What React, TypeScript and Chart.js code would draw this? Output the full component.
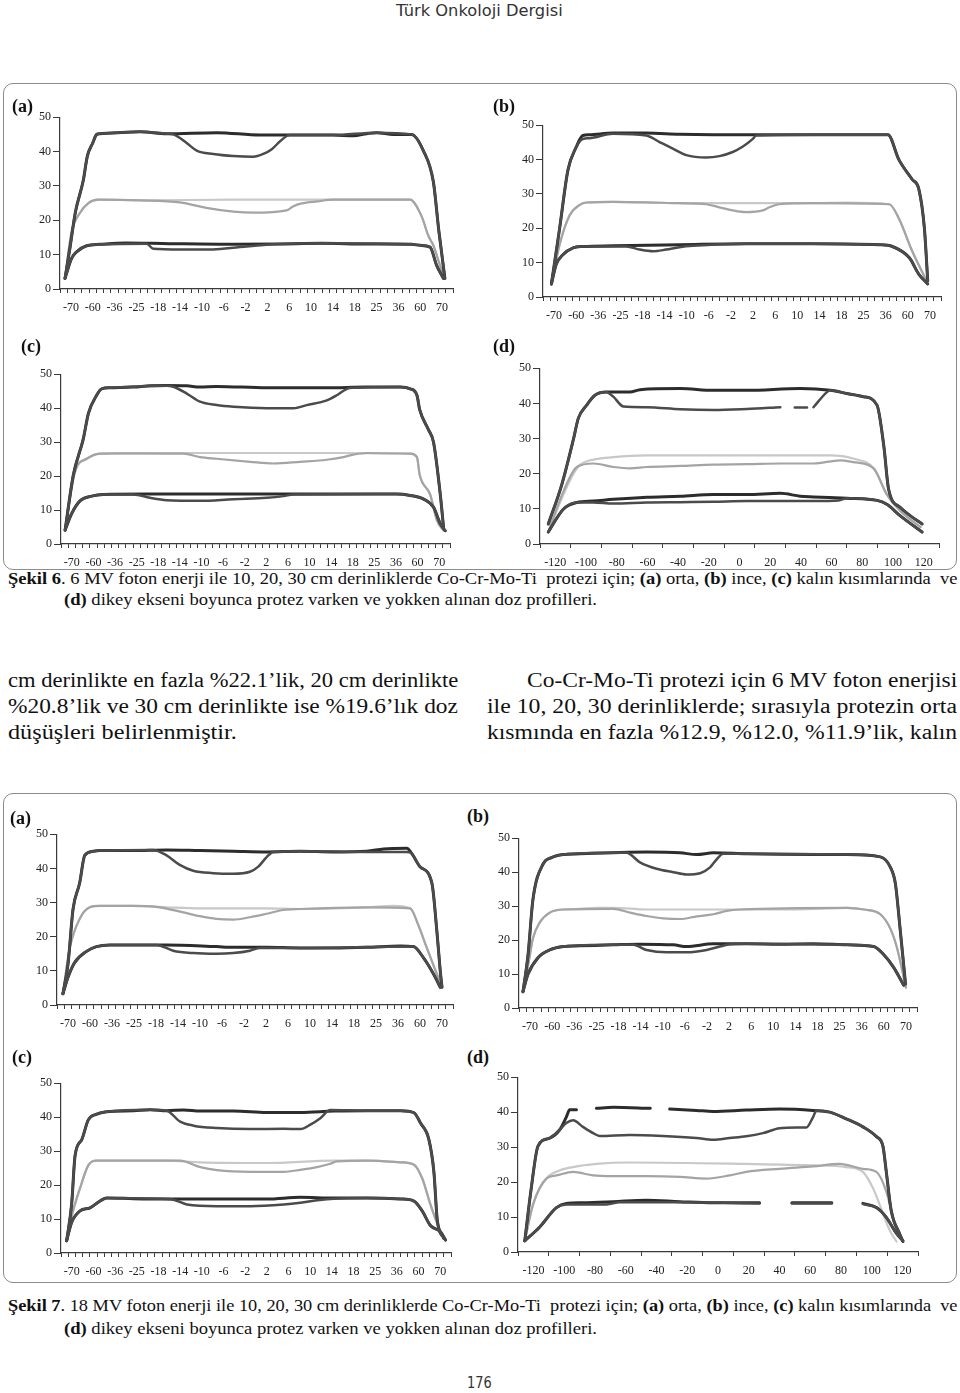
import React, { useEffect, useLayoutEffect, useRef } from 'react';
import { Chart, registerables } from 'chart.js';
Chart.register(...registerables);

type P = [number, number | null];

// ---------- tick labels ----------
const LABELS_MID = ['-70', '-60', '-36', '-25', '-18', '-14', '-10', '-6', '-2', '2', '6', '10', '14', '18', '25', '36', '60', '70'];
const LABELS_VERT = ['-120', '-100', '-80', '-60', '-40', '-20', '0', '20', '40', '60', '80', '100', '120'];
const Y_MAX = 50;
const Y_STEP = 10;

// ---------- Şekil 6 (a) orta ----------
const a6_10: P[] = [[0.23,3.1],[0.45,11.7],[0.7,22.2],[1.07,31.7],[1.25,38.6],[1.5,42.5],[1.68,45],[1.83,45.2],[3.66,45.8],[4.89,45.2],[7.18,45.5],[9.16,44.8],[11,44.8],[12.5,44.8],[13.44,44.6],[14.05,45.2],[14.5,45.5],[15.27,45],[16.1,45],[16.64,40.3],[17.1,31.2],[17.35,17],[17.63,3.1]];
const a6_10p: P[] = [[0.23,3.1],[0.45,11.7],[0.7,22.2],[1.07,31.7],[1.25,38.6],[1.5,42.5],[1.68,45],[1.83,45.2],[3.66,45.8],[4.89,45.2],[5.19,45],[5.8,42.5],[6.26,40.3],[7.02,39.3],[7.94,38.7],[8.85,38.5],[9.31,39.3],[9.7,40.7],[10.08,43],[10.4,44.6],[10.53,44.8],[12.5,44.8],[14.5,45.5],[16.1,45],[16.64,40.3],[17.1,31.2],[17.35,17],[17.63,3.1]];
const a6_20: P[] = [[0.23,3.1],[0.53,16.5],[0.92,22.2],[1.3,25],[1.76,26],[4,25.8],[8,26],[12,26],[16.03,26],[16.56,21.2],[16.87,15.5],[17.1,12.7],[17.4,7],[17.63,3.1]];
const a6_20p: P[] = [[0.23,3.1],[0.53,16.5],[0.92,22.2],[1.3,25],[1.76,26],[3.66,25.8],[5.5,25.2],[6.7,23.6],[7.94,22.5],[8.85,22.2],[10.38,22.9],[10.69,24.1],[11.07,24.9],[11.8,25.5],[12.5,26],[16.03,26],[16.56,21.2],[16.87,15.5],[17.1,12.7],[17.4,7],[17.63,3.1]];
const a6_30: P[] = [[0.23,3.1],[0.53,8.9],[0.76,10.8],[1.22,12.6],[1.83,13],[3,13.4],[5,13.2],[8,13],[10,13.1],[12,13.3],[14,13.1],[16.1,13],[16.5,12.7],[16.95,12.2],[17.25,6.9],[17.56,3.1]];
const a6_30p: P[] = [[0.23,3.1],[0.53,8.9],[0.76,10.8],[1.22,12.6],[1.83,13],[3.97,13.2],[4.27,11.7],[5.5,11.5],[7,11.5],[8.24,12.2],[9.16,12.7],[9.8,13],[12,13.3],[16.1,13],[16.5,12.7],[16.95,12.2],[17.25,6.9],[17.56,3.1]];

// ---------- Şekil 6 (b) ince ----------
const b6_10: P[] = [[0.38,3.8],[0.75,19.9],[1.13,37],[1.5,43.6],[1.8,47],[2.1,47.2],[3.16,47.7],[4.67,47.7],[6.17,47.4],[9.19,47.2],[12.2,47.2],[15.6,47.2],[16.1,39.9],[16.7,34.2],[17,31.3],[17.25,19.9],[17.4,4.7]];
const b6_10p: P[] = [[0.38,3.8],[0.75,19.9],[1.13,37],[1.5,43.6],[1.8,46],[2.1,46.2],[3.16,47.5],[4.67,47],[5.27,45.1],[5.87,43.2],[6.48,41.3],[7.38,40.6],[7.98,41],[8.58,42.2],[9.04,43.8],[9.49,46],[9.64,47],[12.2,47.2],[15.6,47.2],[16.1,39.9],[16.7,34.2],[17,31.3],[17.25,19.9],[17.4,4.7]];
const b6_20: P[] = [[0.38,3.8],[0.75,15.2],[1.2,23.7],[1.66,26.8],[1.96,27.5],[3.16,27.7],[6.17,27.3],[9.19,27.3],[12.2,27.3],[13.7,27.5],[15.66,27],[16.1,22.8],[16.7,13.3],[17.2,6.6],[17.4,3.8]];
const b6_20p: P[] = [[0.38,3.8],[0.75,15.2],[1.2,23.7],[1.66,26.8],[1.96,27.5],[3.16,27.7],[6.17,27.3],[7.38,27],[7.98,26.1],[8.58,25.2],[9.19,24.7],[9.94,25.2],[10.24,26.1],[10.69,27],[12.2,27.3],[15.66,27],[16.1,22.8],[16.7,13.3],[17.2,6.6],[17.4,3.8]];
const b6_30: P[] = [[0.38,3.8],[0.6,9.5],[0.9,12.3],[1.36,14.3],[1.8,14.7],[3.16,14.9],[6.17,15.2],[9.19,15.5],[12.2,15.5],[15.2,15.2],[15.8,14.7],[16.57,11.4],[17,6.6],[17.4,3.8]];
const b6_30p: P[] = [[0.38,3.8],[0.6,9.5],[0.9,12.3],[1.36,14.3],[1.8,14.7],[3.77,14.7],[4.37,13.8],[4.97,13.3],[5.57,13.8],[6.17,14.5],[6.78,14.9],[9.19,15.5],[12.2,15.5],[15.2,15.2],[15.8,14.7],[16.57,11.4],[17,6.6],[17.4,3.8]];

// ---------- Şekil 6 (c) kalın ----------
const c6_10: P[] = [[0.19,4.1],[0.57,20.3],[1.03,30.9],[1.27,38.5],[1.65,43.8],[1.88,45.7],[2.27,46],[3.35,46.2],[4.12,46.6],[4.89,46.7],[5.82,46.6],[6.43,46.2],[7.2,46.4],[9.52,46],[12.3,46],[14.15,46.2],[15.7,46.2],[16.16,45.7],[16.47,43.8],[16.6,39.5],[17,33.7],[17.24,29.9],[17.55,14.6],[17.7,5]];
const c6_10p: P[] = [[0.19,4.1],[0.57,20.3],[1.03,30.9],[1.27,38.5],[1.65,43.8],[1.88,45.7],[2.27,46],[4.89,46.6],[5.2,46.3],[5.82,44.3],[6.43,41.9],[7.2,40.9],[7.98,40.4],[9.52,40],[10.76,40],[11.37,40.9],[12.3,42.3],[12.76,43.8],[13.23,45.7],[13.5,46],[15.7,46.2],[16.16,45.7],[16.47,43.8],[16.6,39.5],[17,33.7],[17.24,29.9],[17.55,14.6],[17.7,5]];
const c6_20: P[] = [[0.19,4.1],[0.65,21.3],[1.19,25.1],[1.8,26.6],[2.58,26.7],[4.12,26.8],[7,26.8],[10,26.8],[13,26.8],[16.16,26.6],[16.47,25.6],[16.6,20.3],[17.08,14.6],[17.4,6.9],[17.7,4]];
const c6_20p: P[] = [[0.19,4.1],[0.65,21.3],[1.19,25.1],[1.8,26.6],[2.58,26.7],[5.66,26.6],[6.43,25.6],[7.2,25.1],[8.75,24.2],[9.83,23.7],[11.07,24.2],[12.3,24.8],[13.07,25.6],[13.53,26.3],[14.15,26.8],[16.16,26.6],[16.47,25.6],[16.6,20.3],[17.08,14.6],[17.4,6.9],[17.7,4]];
const c6_30: P[] = [[0.19,4.1],[0.49,8.9],[0.88,12.7],[1.42,14.1],[1.96,14.6],[4,14.7],[8,14.7],[12,14.7],[15.5,14.7],[16.16,14.3],[16.78,13.2],[17.24,10.8],[17.55,6],[17.78,3.9]];
const c6_30p: P[] = [[0.19,4.1],[0.49,8.9],[0.88,12.7],[1.42,14.1],[1.96,14.6],[3.35,14.6],[4.12,13.6],[4.89,12.9],[6.43,12.7],[7.98,13.2],[9.52,13.6],[10.3,14.1],[10.76,14.6],[15.5,14.7],[16.16,14.3],[16.78,13.2],[17.24,10.8],[17.55,6],[17.78,3.9]];

// ---------- Şekil 6 (d) dikey ----------
const d6_10: P[] = [[0.27,5.7],[0.71,16.9],[1.09,29.8],[1.25,35.8],[1.52,39.5],[1.79,42.3],[2.17,43.2],[2.93,43.2],[3.26,43.9],[4.57,44.2],[5.65,43.7],[6.74,43.7],[8.48,44.2],[9.46,43.7],[10,42.8],[10.54,41.9],[10.98,39.5],[11.2,28],[11.36,15.5],[11.74,10.4],[12.07,8],[12.45,5.7]];
const d6_10p: P[] = [[0.27,5.7],[0.71,16.9],[1.09,29.8],[1.25,35.8],[1.52,39.5],[1.79,42.3],[2.17,43.2],[2.23,43],[2.39,41.9],[2.72,39.1],[3.48,38.9],[4.57,38.3],[5.65,38.1],[6.74,38.4],[7.83,38.9],[7.95,null],[8.3,38.8],[8.7,38.8],[8.85,null],[8.91,38.9],[9.35,43.2],[9.46,43.7],[10,42.8],[10.54,41.9],[10.98,39.5],[11.2,28],[11.36,15.5],[11.74,10.4],[12.07,8],[12.45,5.7]];
const d6_20: P[] = [[0.27,3.4],[0.71,13],[1.09,20],[1.3,22.5],[1.63,23.8],[2.39,24.7],[3.48,25.2],[6,25.2],[9.46,25.2],[10.2,24.3],[10.87,21.5],[11.3,14.1],[11.74,9.4],[12.4,4.8]];
const d6_20p: P[] = [[0.27,3.4],[0.76,14.9],[1.2,21.9],[1.74,22.9],[2.39,21.9],[2.93,21.5],[3.48,21.9],[4.57,22.2],[5.65,22.6],[6.74,22.7],[7.83,22.9],[8.91,22.9],[9.78,23.8],[10.2,23.3],[10.87,21.5],[11.3,14.1],[11.74,9.4],[12.4,4.8]];
const d6_30: P[] = [[0.27,3.4],[0.76,9.9],[1.2,11.8],[1.74,12.2],[2.39,12.7],[3.48,13.3],[4.57,13.6],[5.65,14.1],[6.74,14.1],[7.83,14.4],[8.48,13.6],[8.91,13.4],[10,13],[10.98,12.4],[11.3,11.3],[11.74,8],[12.45,3.4]];
const d6_30p: P[] = [[0.27,3.4],[0.76,9.9],[1.2,11.8],[1.74,11.8],[2.39,11.5],[3.48,11.8],[4.57,11.9],[5.65,12],[6.74,12.2],[8.91,12.2],[9.73,12.4],[10,13],[10.98,12.4],[11.3,11.3],[11.74,8],[12.45,3.4]];

// ---------- Şekil 7 (a) orta ----------
const a7_10: P[] = [[0.27,3.3],[0.5,11.9],[0.73,28.1],[1.03,35.7],[1.26,43.8],[1.64,45],[1.94,45.2],[3.46,45.2],[4.98,45.4],[6.49,45.2],[8.01,45],[9.53,44.8],[11.05,45],[12.56,44.8],[14.08,45],[14.84,45.7],[15.9,45.9],[16.13,44.3],[16.5,40.5],[17.04,35.7],[17.27,21.4],[17.42,10],[17.5,5.2]];
const a7_10p: P[] = [[0.27,3.3],[0.5,11.9],[0.73,28.1],[1.03,35.7],[1.26,43.8],[1.64,45],[1.94,45.2],[4.37,45.4],[4.98,43.8],[5.58,41],[6.19,39.3],[7.1,38.6],[8.01,38.4],[8.77,39],[9.15,40.5],[9.53,43.3],[9.83,44.8],[11.05,45],[14.08,44.8],[15.9,44.8],[16.13,44.3],[16.5,40.5],[17.04,35.7],[17.27,21.4],[17.42,10],[17.5,5.2]];
const a7_20: P[] = [[0.27,3.3],[0.58,16.7],[1.03,25.2],[1.49,28.6],[1.94,29],[3.46,29],[4.98,28.6],[6.49,28.3],[9.53,28.3],[11.05,28.1],[12.56,28.3],[14.08,28.6],[15.3,29],[16.05,28.3],[16.43,23.3],[16.81,16.7],[17.27,9],[17.5,5.2]];
const a7_20p: P[] = [[0.27,3.3],[0.58,16.7],[1.03,25.2],[1.49,28.6],[1.94,29],[3.46,29],[4.67,28.6],[5.74,27.1],[6.49,26],[7.25,25.2],[8.01,25],[8.77,25.7],[9.53,26.7],[10.29,27.8],[11.05,28.1],[14.08,28.6],[16.05,28.3],[16.43,23.3],[16.81,16.7],[17.27,9],[17.5,5.2]];
const a7_30: P[] = [[0.27,3.3],[0.5,8.1],[0.8,12.4],[1.34,15.7],[1.79,17.1],[2.4,17.6],[4.98,17.6],[7.25,17.1],[8.01,16.9],[9.53,16.9],[11.05,16.7],[12.56,16.7],[14.08,16.9],[15.6,17.3],[16.2,17.1],[16.66,13.8],[17.12,9],[17.42,5.2]];
const a7_30p: P[] = [[0.27,3.3],[0.5,8.1],[0.8,12.4],[1.34,15.7],[1.79,17.1],[2.4,17.6],[4.52,17.6],[5.28,15.9],[6.19,15.2],[7.25,15],[8.01,15.2],[8.77,15.9],[9.23,16.7],[11.05,16.7],[16.2,17.1],[16.66,13.8],[17.12,9],[17.42,5.2]];

// ---------- Şekil 7 (b) ince ----------
const b7_10: P[] = [[0.18,4.8],[0.41,15.7],[0.63,31.9],[1.09,42.4],[1.47,44.3],[2,45.2],[2.75,45.4],[4.26,45.7],[5.77,45.9],[7.28,45.7],[8.04,45.2],[8.79,45.7],[10.3,45.4],[13.3,45.2],[14.84,45.2],[16.34,44.5],[16.8,41.4],[17.02,36.7],[17.25,22.4],[17.48,7.1]];
const b7_10p: P[] = [[0.18,4.8],[0.41,15.7],[0.63,31.9],[1.09,42.4],[1.47,44.3],[2,45.2],[4.26,45.7],[4.86,45.7],[5.47,42.9],[6.22,41],[6.98,40],[7.58,39.3],[8.19,39.7],[8.64,41.4],[8.94,43.8],[9.24,45.4],[10.3,45.4],[14.84,45.2],[16.34,44.5],[16.8,41.4],[17.02,36.7],[17.25,22.4],[17.48,7.1]];
const b7_20: P[] = [[0.18,4.8],[0.45,14],[0.63,20.5],[0.94,25.2],[1.39,28.1],[2,29],[2.75,29.2],[3.5,29.5],[4.26,29.5],[5.77,29],[8.79,29],[11.8,29],[13.3,29.2],[14.84,29.5],[15.6,29],[16.34,27.6],[16.8,23.3],[17.1,17.6],[17.4,9],[17.5,6]];
const b7_20p: P[] = [[0.18,4.8],[0.45,14],[0.63,20.5],[0.94,25.2],[1.39,28.1],[2,29],[4.26,29.2],[5.02,28.1],[5.77,27.1],[6.53,26.4],[7.28,26.2],[8.04,27],[8.79,27.6],[9.4,28.6],[10,29],[14.84,29.5],[15.6,29],[16.34,27.6],[16.8,23.3],[17.1,17.6],[17.4,9],[17.5,6]];
const b7_30: P[] = [[0.18,4.8],[0.41,10],[0.86,14.8],[1.39,17.1],[2,18.1],[2.75,18.3],[4.26,18.6],[5.47,18.8],[6.98,18.6],[7.58,18.1],[8.79,18.9],[10.3,18.9],[11.8,18.8],[13.3,18.9],[14.84,18.6],[16.04,18.1],[16.5,15.7],[16.95,11.9],[17.4,6.7]];
const b7_30p: P[] = [[0.18,4.8],[0.41,10],[0.86,14.8],[1.39,17.1],[2,18.1],[4.26,18.6],[5.17,18.6],[5.77,17.1],[6.68,16.4],[7.58,16.4],[8.49,17.1],[9.09,18.1],[9.4,18.6],[10.3,18.9],[14.84,18.6],[16.04,18.1],[16.5,15.7],[16.95,11.9],[17.4,6.7]];

// ---------- Şekil 7 (c) kalın ----------
const c7_10: P[] = [[0.26,3.6],[0.49,14.3],[0.65,28.7],[0.96,33.4],[1.26,39.2],[1.65,40.9],[2.11,41.6],[3.35,41.9],[4.12,42.2],[4.88,41.9],[5.66,42.1],[6.43,41.8],[7.97,41.8],[9.5,41.4],[11.05,41.4],[12.59,41.8],[14.13,41.9],[15.67,41.9],[16.29,41.3],[16.6,38.2],[16.98,33.4],[17.21,23.9],[17.37,9.5],[17.67,4.3]];
const c7_10p: P[] = [[0.26,3.6],[0.49,14.3],[0.65,28.7],[0.96,33.4],[1.26,39.2],[1.65,40.9],[2.11,41.6],[4.12,42.2],[4.88,41.9],[5.5,38.7],[6.12,37.5],[7.2,36.8],[8.74,36.5],[10.28,36.6],[11.05,36.5],[11.51,37.8],[11.97,39.7],[12.43,42.1],[14.13,41.9],[15.67,41.9],[16.29,41.3],[16.6,38.2],[16.98,33.4],[17.21,23.9],[17.37,9.5],[17.67,4.3]];
const c7_20: P[] = [[0.26,3.6],[0.5,11],[0.88,19.1],[1.26,25.8],[1.65,27.2],[3.35,27.2],[4.88,27.2],[6.43,26.7],[9.5,26.5],[12.59,27.2],[14.13,27.2],[15.67,26.7],[16.29,26],[16.67,22],[17.05,14.3],[17.37,8.6],[17.67,4.3]];
const c7_20p: P[] = [[0.26,3.6],[0.5,11],[0.88,19.1],[1.26,25.8],[1.65,27.2],[4.88,27.2],[5.5,27.2],[6.43,25.3],[7.2,24.4],[8.74,23.9],[10.28,23.9],[11.05,24.5],[11.82,25.3],[12.43,26.3],[12.74,27],[14.13,27.2],[15.67,26.7],[16.29,26],[16.67,22],[17.05,14.3],[17.37,8.6],[17.67,4.3]];
const c7_30: P[] = [[0.26,3.6],[0.49,9],[0.88,12.4],[1.34,13.3],[1.8,15.3],[2.11,16.2],[3.35,16],[4.88,15.9],[6.43,15.9],[9.5,15.9],[11.05,16.4],[12.59,16.2],[14.13,16.2],[15.67,15.9],[16.29,15.3],[16.67,12.4],[17.05,8.1],[17.52,6.2],[17.75,3.8]];
const c7_30p: P[] = [[0.26,3.6],[0.49,9],[0.88,12.4],[1.34,13.3],[1.8,15.3],[2.11,16.2],[4.88,15.9],[5.19,15.7],[5.81,14.3],[7.2,13.8],[8.74,13.8],[10.28,14.3],[11.05,14.8],[11.82,15.5],[12.59,16],[14.13,16.2],[15.67,15.9],[16.29,15.3],[16.67,12.4],[17.05,8.1],[17.52,6.2],[17.75,3.8]];

// ---------- Şekil 7 (d) dikey ----------
const d7_10: P[] = [[0.22,3.2],[0.43,18.2],[0.65,30.3],[1.03,32.6],[1.35,34.9],[1.57,38.6],[1.68,40.7],[1.9,40.7],[2.1,null],[2.55,41.1],[3.09,41.4],[4.3,41.1],[4.5,null],[4.93,40.9],[5.8,40.5],[6.34,40.2],[7.42,40.6],[8.5,40.9],[9.59,40.5],[10.13,40],[10.67,38.1],[11.21,35.8],[11.65,33],[11.86,30.3],[11.97,22.9],[12.13,11.8],[12.4,5.3],[12.51,3]];
const d7_10p: P[] = [[0.22,3.2],[0.43,18.2],[0.65,30.3],[1.03,32.6],[1.35,34.9],[1.57,36.9],[1.79,37.7],[2.11,35.8],[2.44,34],[2.65,33.2],[3.63,33.5],[4.71,33.2],[5.8,32.6],[6.34,32.1],[6.88,32.6],[7.42,33.1],[7.96,34],[8.5,35.4],[9.05,35.6],[9.37,35.6],[9.59,38.6],[9.7,40.5],[10.13,40],[10.67,38.1],[11.21,35.8],[11.65,33],[11.86,30.3],[11.97,22.9],[12.13,11.8],[12.4,5.3],[12.51,3]];
const d7_20: P[] = [[0.22,3.2],[0.49,13.6],[0.92,21],[1.35,23.3],[1.79,24.3],[2.55,25.2],[3.63,25.6],[7.42,25.2],[9.59,24.8],[10.67,24.3],[11.21,22.9],[11.54,18.2],[12.08,6.2],[12.3,3]];
const d7_20p: P[] = [[0.22,3.2],[0.49,13.6],[0.92,21],[1.25,21.9],[1.79,22.9],[2.44,21.9],[3.09,21.7],[4.17,21.7],[5.26,21.5],[6.12,21],[6.88,21.9],[7.42,22.9],[8.5,23.8],[9.59,24.5],[10.45,25.2],[11.21,23.8],[11.65,22.9],[11.97,17.3],[12.3,6.2],[12.51,3]];
const d7_30: P[] = [[0.22,3.2],[0.7,7.1],[1.25,12.7],[1.57,13.9],[2.1,14.1],[3.09,14.4],[4.17,14.8],[5.26,14.4],[6.34,14.1],[7.85,14.1],[8.1,null],[8.9,14.1],[10.2,14.1],[10.45,null],[11.21,13.9],[11.65,12.7],[11.97,9.9],[12.3,5.3],[12.51,3.2]];
const d7_30p: P[] = [[0.22,3.2],[0.7,7.1],[1.25,12.7],[1.57,13.6],[2.88,13.6],[3.3,14.2],[5.26,14.2],[7.85,13.9],[8.1,null],[8.9,13.9],[10.2,13.9],[10.45,null],[11.21,13.7],[11.65,12.7],[11.97,9.9],[12.3,5.3],[12.51,3.2]];

// ---------- styles ----------
const SERIF = '"Liberation Serif", "Times New Roman", serif';
const SANS = '"DejaVu Sans", "Noto Sans", sans-serif';
const AXIS_COLOR = '#3a3a3a';
const LINE_STYLE: Record<string, { color: string; width: number }> = {
  d10p: { color: '#4b4b4b', width: 2.5 },
  d30p: { color: '#4b4b4b', width: 2.5 },
  d10: { color: '#2c2c2c', width: 3 },
  d30: { color: '#2c2c2c', width: 3 },
  d20p: { color: '#a4a4a4', width: 2.2 },
  d20: { color: '#c8c8c8', width: 2.2 },
};

type Box = { l: number; t: number; r: number; b: number };
type Panel = {
  box: Box;
  labels: string[];
  minor: number;
  letter: string;
  lx: number;
  ly: number;
  series: { d10: P[]; d10p: P[]; d20: P[]; d20p: P[]; d30: P[]; d30p: P[] };
};

const PANELS: Panel[] = [
  { box: { l: 60, t: 116, r: 453, b: 290 }, labels: LABELS_MID, minor: 3, letter: '(a)', lx: 12, ly: 107, series: { d10: a6_10, d10p: a6_10p, d20: a6_20, d20p: a6_20p, d30: a6_30, d30p: a6_30p } },
  { box: { l: 543, t: 124, r: 941, b: 298 }, labels: LABELS_MID, minor: 3, letter: '(b)', lx: 493, ly: 107, series: { d10: b6_10, d10p: b6_10p, d20: b6_20, d20p: b6_20p, d30: b6_30, d30p: b6_30p } },
  { box: { l: 61, t: 373, r: 450, b: 545 }, labels: LABELS_MID, minor: 3, letter: '(c)', lx: 21, ly: 347, series: { d10: c6_10, d10p: c6_10p, d20: c6_20, d20p: c6_20p, d30: c6_30, d30p: c6_30p } },
  { box: { l: 540, t: 367, r: 939, b: 545 }, labels: LABELS_VERT, minor: 1, letter: '(d)', lx: 493, ly: 347, series: { d10: d6_10, d10p: d6_10p, d20: d6_20, d20p: d6_20p, d30: d6_30, d30p: d6_30p } },
  { box: { l: 57, t: 833, r: 453, b: 1006 }, labels: LABELS_MID, minor: 3, letter: '(a)', lx: 10, ly: 819, series: { d10: a7_10, d10p: a7_10p, d20: a7_20, d20p: a7_20p, d30: a7_30, d30p: a7_30p } },
  { box: { l: 519, t: 837, r: 917, b: 1009 }, labels: LABELS_MID, minor: 3, letter: '(b)', lx: 467, ly: 817, series: { d10: b7_10, d10p: b7_10p, d20: b7_20, d20p: b7_20p, d30: b7_30, d30p: b7_30p } },
  { box: { l: 61, t: 1082, r: 451, b: 1254 }, labels: LABELS_MID, minor: 3, letter: '(c)', lx: 12, ly: 1058, series: { d10: c7_10, d10p: c7_10p, d20: c7_20, d20p: c7_20p, d30: c7_30, d30p: c7_30p } },
  { box: { l: 518, t: 1076, r: 918, b: 1253 }, labels: LABELS_VERT, minor: 1, letter: '(d)', lx: 467, ly: 1058, series: { d10: d7_10, d10p: d7_10p, d20: d7_20, d20p: d7_20p, d30: d7_30, d30p: d7_30p } },
];

const Y_AXIS_W = 34;
const PAD_T = 8;
const PAD_R = 6;
const X_TICK_H = 3;
const X_LABEL_H = 18;

function ProfileChart({ p }: { p: Panel }) {
  const ref = useRef<HTMLCanvasElement>(null);
  const left = p.box.l - Y_AXIS_W;
  const top = p.box.t - PAD_T;
  const width = p.box.r + PAD_R - left;
  const height = p.box.b + X_TICK_H + X_LABEL_H - top;

  useEffect(() => {
    const slots = p.labels.length;
    const minorTicks: number[] = [];
    for (let i = 0; i <= slots * p.minor; i++) minorTicks.push(i / p.minor);
    const labelTicks = p.labels.map((_, i) => i + 0.5);
    const order = ['d10p', 'd30p', 'd10', 'd30', 'd20p', 'd20'] as const;
    const datasets = order.map((k) => ({
      label: k,
      data: (p.series as any)[k].map(([x, y]: P) => ({ x, y })),
      borderColor: LINE_STYLE[k].color,
      borderWidth: LINE_STYLE[k].width,
      pointRadius: 0,
      fill: false,
      cubicInterpolationMode: 'monotone' as const,
      borderCapStyle: 'round' as const,
      borderJoinStyle: 'round' as const,
      spanGaps: false,
    }));
    const tickFont = { family: SERIF, size: 12 };
    const chart = new Chart(ref.current!, {
      type: 'line',
      data: { datasets },
      options: {
        animation: false,
        responsive: false,
        maintainAspectRatio: false,
        layout: { padding: { top: PAD_T, right: PAD_R, left: 0, bottom: 0 } },
        plugins: { legend: { display: false }, tooltip: { enabled: false } },
        scales: {
          x: {
            type: 'linear',
            min: 0,
            max: slots,
            afterBuildTicks: (s: any) => {
              s.ticks = minorTicks.map((v) => ({ value: v }));
            },
            ticks: { display: false },
            grid: { drawOnChartArea: false, drawTicks: true, tickLength: X_TICK_H + 1, color: AXIS_COLOR, lineWidth: 1 },
            border: { display: true, color: AXIS_COLOR, width: 1.2 },
          },
          xl: {
            type: 'linear',
            position: 'bottom',
            weight: 1,
            min: 0,
            max: slots,
            afterBuildTicks: (s: any) => {
              s.ticks = labelTicks.map((v) => ({ value: v }));
            },
            afterFit: (s: any) => {
              s.height = X_LABEL_H;
            },
            ticks: {
              autoSkip: false,
              maxRotation: 0,
              padding: 0,
              font: tickFont,
              color: '#222',
              callback: (_v: any, i: number) => p.labels[i],
            },
            grid: { display: false },
            border: { display: false },
          },
          y: {
            min: 0,
            max: Y_MAX,
            afterFit: (s: any) => {
              s.width = Y_AXIS_W;
            },
            ticks: { stepSize: Y_STEP, font: tickFont, color: '#222', padding: 2 },
            grid: { drawOnChartArea: false, drawTicks: true, tickLength: 7, color: AXIS_COLOR },
            border: { display: true, color: AXIS_COLOR, width: 1.2 },
          },
        },
      } as any,
    });
    return () => chart.destroy();
  }, []);

  return (
    <canvas
      ref={ref}
      width={width}
      height={height}
      style={{ position: 'absolute', left, top, width, height }}
    />
  );
}

function FitText({ x, cy, w, size, family, weight = 400, color = '#111', children }: any) {
  const ref = useRef<HTMLSpanElement>(null);
  useLayoutEffect(() => {
    const el = ref.current;
    if (!el) return;
    el.style.transform = 'none';
    const nat = el.offsetWidth;
    if (nat > 0) el.style.transform = `scaleX(${w / nat})`;
  }, [w]);
  return (
    <span
      ref={ref}
      style={{
        position: 'absolute',
        left: x,
        top: cy - size * 0.55,
        fontSize: size,
        lineHeight: `${size}px`,
        fontFamily: family,
        fontWeight: weight,
        color,
        whiteSpace: 'pre',
        transformOrigin: '0 0',
        display: 'inline-block',
      }}
    >
      {children}
    </span>
  );
}

function Frame({ l, t, r, b }: Box) {
  return (
    <div
      style={{
        position: 'absolute',
        left: l,
        top: t,
        width: r - l,
        height: b - t,
        border: '1.5px solid #8c8c8c',
        borderRadius: 10,
        boxSizing: 'border-box',
      }}
    />
  );
}

export default function App() {
  return (
    <div style={{ position: 'absolute', left: 0, top: 0, width: 960, height: 1393, background: '#fff', overflow: 'hidden' }}>
      <FitText x={396} cy={12} w={167} size={15} family={SANS} color="#333">Türk Onkoloji Dergisi</FitText>

      <Frame l={3} t={83} r={957} b={570} />
      <Frame l={3} t={793} r={957} b={1283} />

      {PANELS.map((p, i) => (
        <React.Fragment key={i}>
          <ProfileChart p={p} />
          <div
            style={{
              position: 'absolute',
              left: p.lx,
              top: p.ly - 11,
              fontFamily: SERIF,
              fontWeight: 700,
              fontSize: 18,
              lineHeight: '20px',
              color: '#111',
            }}
          >
            {p.letter}
          </div>
        </React.Fragment>
      ))}

      <FitText x={8} cy={580} w={949} size={16} family={SERIF}>
        <b>Şekil 6</b>. 6 MV foton enerji ile 10, 20, 30 cm derinliklerde Co-Cr-Mo-Ti  protezi için; <b>(a)</b> orta, <b>(b)</b> ince, <b>(c)</b> kalın kısımlarında  ve
      </FitText>
      <FitText x={64} cy={601} w={533} size={16} family={SERIF}>
        <b>(d)</b> dikey ekseni boyunca protez varken ve yokken alınan doz profilleri.
      </FitText>

      <FitText x={8} cy={681} w={450} size={20} family={SERIF}>cm derinlikte en fazla %22.1’lik, 20 cm derinlikte</FitText>
      <FitText x={8} cy={707} w={450} size={20} family={SERIF}>%20.8’lik ve 30 cm derinlikte ise %19.6’lık doz</FitText>
      <FitText x={8} cy={733} w={229} size={20} family={SERIF}>düşüşleri belirlenmiştir.</FitText>

      <FitText x={527} cy={681} w={430} size={20} family={SERIF}>Co-Cr-Mo-Ti protezi için 6 MV foton enerjisi</FitText>
      <FitText x={487} cy={707} w={470} size={20} family={SERIF}>ile 10, 20, 30 derinliklerde; sırasıyla protezin orta</FitText>
      <FitText x={487} cy={733} w={470} size={20} family={SERIF}>kısmında en fazla %12.9, %12.0, %11.9’lik, kalın</FitText>

      <FitText x={8} cy={1307} w={949} size={16} family={SERIF}>
        <b>Şekil 7</b>. 18 MV foton enerji ile 10, 20, 30 cm derinliklerde Co-Cr-Mo-Ti  protezi için; <b>(a)</b> orta, <b>(b)</b> ince, <b>(c)</b> kalın kısımlarında  ve
      </FitText>
      <FitText x={64} cy={1330} w={533} size={16} family={SERIF}>
        <b>(d)</b> dikey ekseni boyunca protez varken ve yokken alınan doz profilleri.
      </FitText>

      <FitText x={467} cy={1384} w={25} size={16} family={SANS} color="#333">176</FitText>
    </div>
  );
}
